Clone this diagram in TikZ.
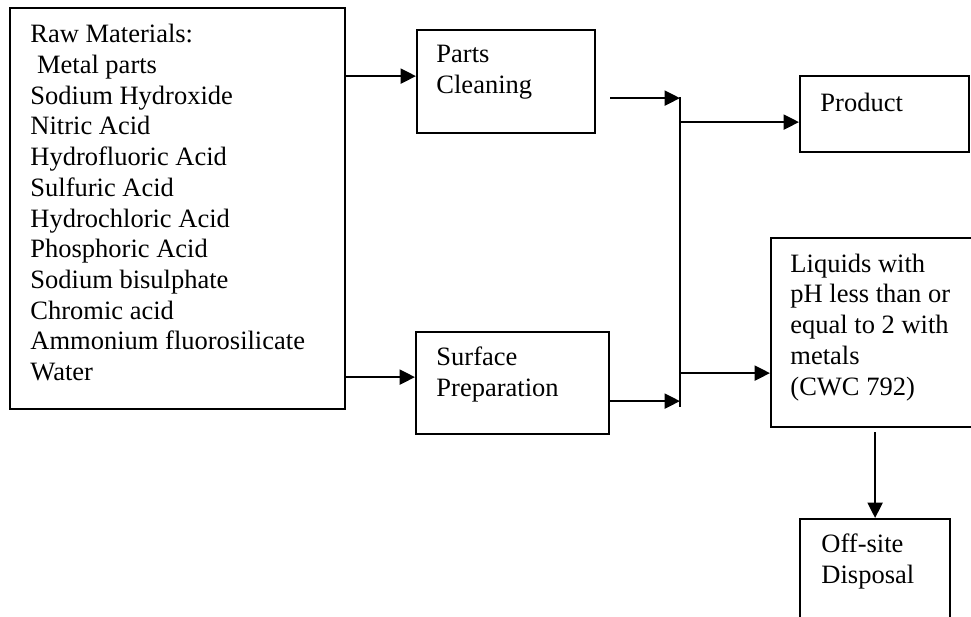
\documentclass[tikz,border=0pt]{standalone}
\usepackage{fontspec}
\setmainfont{Liberation Serif}
\usetikzlibrary{arrows.meta,positioning}

\def\pxl{0.4528pt}
\tikzset{
  box/.style={draw, line width=1pt, inner sep=0pt, anchor=north west},
  % texts sit on the baseline of their last line
  txt/.style={anchor=base west, align=left, inner sep=0pt, font=\fontsize{12}{13.9}\selectfont},
  flow/.style={line width=1pt, -{Triangle[length=7pt,width=6.8pt]}},
  bus/.style={line width=1pt},
}

\begin{document}
\begin{tikzpicture}[x=\pxl, y=-\pxl, line join=miter]
  \useasboundingbox (0,0) rectangle (971,616);
  \clip (0,0) rectangle (971,616);

  % boxes
  \node[box, minimum width=335*\pxl, minimum height=401*\pxl] (raw) at (9,7) {};
  \node[box, minimum width=178*\pxl, minimum height=103*\pxl] (parts) at (416,29) {};
  \node[box, minimum width=193*\pxl, minimum height=102*\pxl] (surf) at (415,331) {};
  \node[box, minimum width=169*\pxl, minimum height=76*\pxl] (product) at (799,75) {};
  \node[box, minimum width=230*\pxl, minimum height=189*\pxl] (liquids) at (770,237) {};
  \node[box, minimum width=150*\pxl, minimum height=120*\pxl] (offsite) at (799,518) {};

  % texts
  \node[txt] (rawtxt) at (30,380.5) {Raw Materials:\\\hspace*{3pt}Metal parts\\Sodium Hydroxide\\Nitric Acid\\
    Hydrofluoric Acid\\Sulfuric Acid\\Hydrochloric Acid\\Phosphoric Acid\\Sodium bisulphate\\
    Chromic acid\\Ammonium fluorosilicate\\Water};
  \node[txt] (partstxt) at (436,93.5) {Parts\\Cleaning};
  \node[txt] (surftxt) at (436,396) {Surface\\Preparation};
  \node[txt] (producttxt) at (820,111) {Product};
  \node[txt] (liquidstxt) at (790,395) {Liquids with\\pH less than or\\equal to 2 with\\metals\\(CWC 792)};
  \node[txt] (offsitetxt) at (821,583) {Off-site\\Disposal};

  % collecting line
  \coordinate (bustop) at (680,97);
  \coordinate (busbot) at (680,407);
  \draw[bus] (bustop) -- (busbot);

  % arrows
  \coordinate (pin) at ([yshift=5.5*\pxl]parts.west);
  \draw[flow] (raw.east |- pin) -- (pin);
  \coordinate (sin) at ([yshift=6*\pxl]surf.west);
  \draw[flow] (raw.east |- sin) -- (sin);
  \coordinate (pout) at ([shift={(14,16.5)}]parts.east);
  \draw[flow] (pout) -- (pout -| bustop);
  \coordinate (sout) at ([yshift=-18*\pxl]surf.east);
  \draw[flow] (sout) -- (sout -| bustop);
  \coordinate (prodin) at ([yshift=-8*\pxl]product.west);
  \draw[flow] (prodin -| bustop) -- (prodin);
  \coordinate (liqin) at ([yshift=-40.5*\pxl]liquids.west);
  \draw[flow] (liqin -| bustop) -- (liqin);
  \draw[flow] ([yshift=-4*\pxl]liquids.south -| offsite.north) -- (offsite.north);
\end{tikzpicture}
\end{document}
